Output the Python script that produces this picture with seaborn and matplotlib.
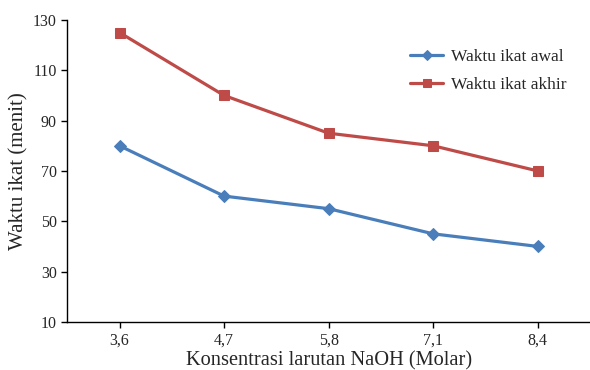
import matplotlib
matplotlib.use("Agg")
import matplotlib.pyplot as plt
import seaborn as sns
import pandas as pd

konsentrasi = ["3,6", "4,7", "5,8", "7,1", "8,4"]
ikat_awal = [80, 60, 55, 45, 40]
ikat_akhir = [125, 100, 85, 80, 70]
y_ticks = [10, 30, 50, 70, 90, 110, 130]

sns.set_style("white")
plt.rcParams["font.family"] = ["Liberation Serif", "DejaVu Serif"]

df = pd.DataFrame({
    "Konsentrasi": konsentrasi * 2,
    "Waktu": ikat_awal + ikat_akhir,
    "Seri": ["Waktu ikat awal"] * 5 + ["Waktu ikat akhir"] * 5,
})

fig = plt.figure(figsize=(5.9, 3.7), dpi=100)
ax = fig.add_axes([0.114, 0.13, 0.886, 0.816])

palette = {"Waktu ikat awal": "#4A7EBB", "Waktu ikat akhir": "#BE4B48"}
markers = {"Waktu ikat awal": "D", "Waktu ikat akhir": "s"}
for seri in ["Waktu ikat awal", "Waktu ikat akhir"]:
    sub = df[df["Seri"] == seri]
    sns.lineplot(data=sub, x="Konsentrasi", y="Waktu", ax=ax,
                 color=palette[seri], marker=markers[seri],
                 markersize=6 if seri.endswith("awal") else 7.5,
                 markeredgecolor=palette[seri], linewidth=2.3,
                 label=seri, sort=False)

ax.set_xlim(-0.5, 4.5)
ax.set_ylim(10, 130)
ax.set_yticks(y_ticks)
ax.set_yticklabels([str(v) for v in y_ticks])
ax.tick_params(axis="both", labelsize=11.5, direction="out", length=4, width=1,
               color="black", bottom=True, left=True)
ax.set_xlabel("Konsentrasi larutan NaOH (Molar)", fontsize=14.7, labelpad=2)
ax.set_ylabel("Waktu ikat (menit)", fontsize=15, labelpad=3)

for side in ["top", "right"]:
    ax.spines[side].set_visible(False)
for side in ["left", "bottom"]:
    ax.spines[side].set_color("black")
    ax.spines[side].set_linewidth(1)

leg = ax.legend(loc="upper left", bbox_to_anchor=(0.656, 0.905), frameon=False,
                fontsize=12.5, handlelength=1.9, handletextpad=0.45,
                labelspacing=0.7, borderpad=0, borderaxespad=0)
for h in leg.legend_handles:
    h.set_markersize(5.5)

fig.savefig("out.png", dpi=100)
